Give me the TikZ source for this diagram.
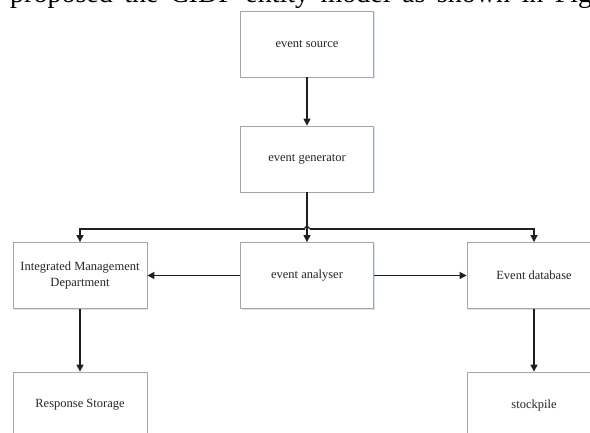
\documentclass[tikz,border=0pt]{standalone}
\usepackage{fontspec}
\setmainfont{Liberation Serif}
\usetikzlibrary{arrows.meta,shadows}
\definecolor{boxline}{HTML}{A6A6A6}
\definecolor{shadowc}{HTML}{D6E2EE}
\definecolor{txt}{HTML}{262626}
\tikzset{
  ebox/.style={draw=boxline, line width=0.8pt, fill=white, minimum width=133pt, minimum height=66pt,
    inner sep=0pt, align=center, text=txt, font=\fontsize{12.5}{16}\selectfont,
    drop shadow={shadow xshift=1pt, shadow yshift=-1.5pt, fill=shadowc, opacity=1}},
  conn/.style={draw=black!88, line width=1.2pt},
  arr/.style={conn, -{Triangle[length=7pt,width=7pt]}}
}
\begin{document}
\begin{tikzpicture}[x=1pt,y=-1pt]
\clip (0,0) rectangle (590,433);
\useasboundingbox (0,0) rectangle (590,433);
\node[anchor=base west, font=\fontsize{28}{30}\selectfont, inner sep=0pt] (cap) at (10,3) {\makebox[582pt][s]{proposed the CIDF entity model as shown in Fig}};
\node[ebox] (src) at (307,44) {event source};
\node[ebox] (gen) at (307,159) {event generator};
\node[ebox] (ana) at (307,275.5) {event analyser};
\node[ebox, minimum width=134pt] (imd) at (80,275.5) {Integrated Management\\Department};
\node[ebox, minimum width=134pt] (edb) at (534,275.5) {Event database};
\node[ebox, minimum width=134pt] (rs) at (80,405) {Response Storage};
\node[ebox, minimum width=134pt] (stk) at (534,405) {stockpile};
\coordinate (hub) at (307,229);
\coordinate (hl) at (304.5,229);
\coordinate (hr) at (309.5,229);
\draw[arr] (src.south) -- (gen.north);
\draw[arr] (gen.south) -- (ana.north);
\draw[arr] (hl) -| (imd.north);
\draw[arr] (hr) -| (edb.north);
\draw[conn] (hl) .. controls +(0,-3.3) and +(0,-3.3) .. (hr);
\draw[arr] (ana.west) -- (imd.east);
\draw[arr] (ana.east) -- (edb.west);
\draw[arr] (imd.south) -- (rs.north);
\draw[arr] (edb.south) -- (stk.north);
\end{tikzpicture}
\end{document}
